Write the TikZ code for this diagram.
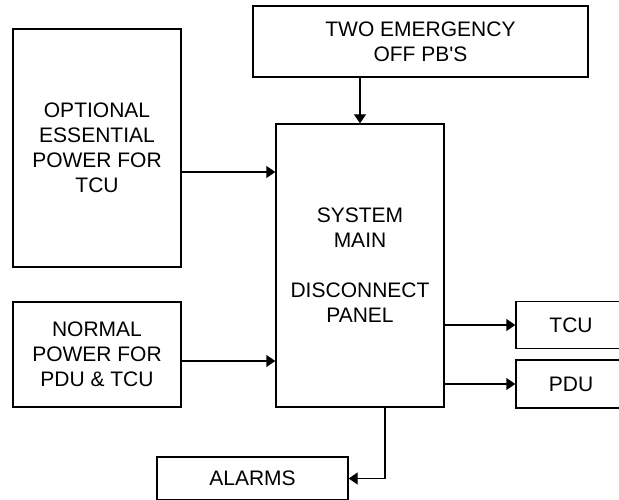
\documentclass[tikz,border=0pt]{standalone}
\usepackage{fontspec}
\setmainfont{Liberation Sans}
\usetikzlibrary{arrows.meta}
\tikzset{
  blk/.style={draw, line width=1.4pt, rectangle, inner sep=0pt, align=center,
    font=\fontsize{21}{25}\selectfont},
  arr/.style={line width=1.4pt, -{Triangle[length=9pt,width=12pt]}}
}
\begin{document}
\begin{tikzpicture}[x=1pt,y=-1pt]
\useasboundingbox (0,0) rectangle (619,500);
\clip (0,0) rectangle (619,500);
\node[blk, minimum width=335pt, minimum height=71pt] (top) at (420.5,41.5) {TWO EMERGENCY\\OFF PB\textquotesingle S};
\node[blk, minimum width=168pt, minimum height=283pt] (main) at (360,265.5) {SYSTEM\\MAIN\\[25pt]DISCONNECT\\PANEL};
\node[blk, minimum width=168pt, minimum height=238pt] (opt) at (97,148) {OPTIONAL\\ESSENTIAL\\POWER FOR\\TCU};
\node[blk, minimum width=168pt, minimum height=105pt] (norm) at (97,354.5) {NORMAL\\POWER FOR\\PDU \& TCU};
\node[blk, minimum width=110pt, minimum height=47pt] (tcu) at (571,325) {TCU};
\node[blk, minimum width=110pt, minimum height=48pt] (pdu) at (571,384) {PDU};
\node[blk, minimum width=191pt, minimum height=43pt] (alarms) at (252.5,478.5) {ALARMS};
\coordinate (yopt) at (0,172);
\coordinate (ynorm) at (0,361);
\coordinate (xal) at (385,0);
\draw[arr] (top.south -| main.north) -- (main.north);
\draw[arr] (opt.east |- yopt) -- (main.west |- yopt);
\draw[arr] (norm.east |- ynorm) -- (main.west |- ynorm);
\draw[arr] (main.east |- tcu.west) -- (tcu.west);
\draw[arr] (main.east |- pdu.west) -- (pdu.west);
\draw[arr] (main.south -| xal) |- (alarms.east);
\end{tikzpicture}
\end{document}
